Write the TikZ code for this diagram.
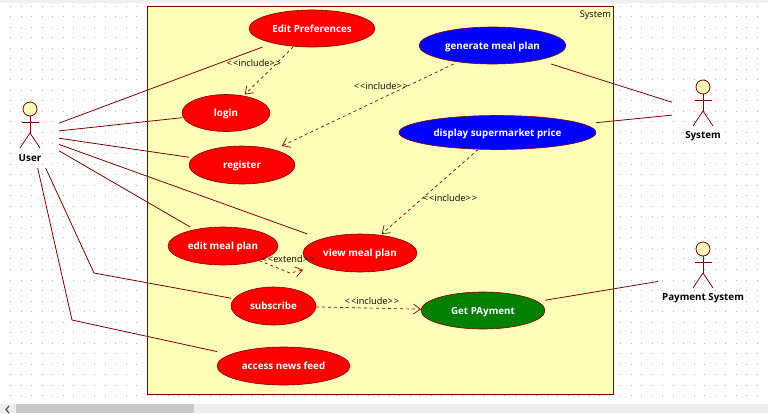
\documentclass[tikz,border=0pt]{standalone}
\usepackage{fontspec}
\setmainfont{Open Sans}
\usetikzlibrary{arrows.meta,shapes.geometric}
\definecolor{umlline}{HTML}{800000}
\definecolor{umlfill}{HTML}{FFFFB9}
\definecolor{ucred}{HTML}{FF0000}
\definecolor{ucblue}{HTML}{0000FF}
\definecolor{ucgreen}{HTML}{008000}
\tikzset{
  usecase/.style={ellipse,draw=umlline,line width=0.6pt,inner sep=0pt,text=white,text height=7.4pt,text depth=0pt,font=\fontsize{9.8}{11}\selectfont\bfseries},
  ucbox/.style={rectangle,inner sep=0pt,outer sep=0pt},
  actorbox/.style={rectangle,inner sep=0pt,outer sep=0pt},
  actorline/.style={draw=umlline,line width=0.8pt},
  actorname/.style={font=\fontsize{9.8}{11}\selectfont\bfseries,text=black,inner sep=0pt},
  assoc/.style={draw=umlline,line width=0.8pt},
  depend/.style={draw=umlline,line width=0.7pt,dash pattern=on 3pt off 3pt,-{Straight Barb[length=7pt,width=10pt]}},
  deplabel/.style={font=\fontsize{9.2}{11}\selectfont,text=black,inner sep=0pt},
}
\newcommand{\UseCase}[7]{%
  \node[usecase,fill=#6,minimum width=#4pt,minimum height=#5pt] (#1) at (#2,#3) {#7};
  \node[ucbox,minimum width=#4pt,minimum height=#5pt] (#1-box) at (#2,#3) {};
}
\newcommand{\Actor}[5]{%
  \node[actorbox,minimum width=#4pt,minimum height=68pt] (#1) at (#2,#3) {};
  \draw[actorline,fill=umlfill] (#2,#3-25) circle (7);
  \draw[actorline] (#2,#3-18) -- (#2,#3-1);
  \draw[actorline] (#2-8.5,#3-11.5) -- (#2+8.5,#3-11.5);
  \draw[actorline] (#2-10,#3+14) -- (#2,#3-1) -- (#2+10,#3+14);
  \node[actorname] (#1-name) at (#2,#3+24.5) {#5};
}
\newcommand{\Inc}{{<}\kern1pt{<}include{>}\kern1pt{>}}
\newcommand{\Ext}{{<}\kern1pt{<}extend{>}\kern1pt{>}}
\begin{document}
\begin{tikzpicture}[x=1pt,y=-1pt]
\useasboundingbox (0,0) rectangle (768,413);
\fill[white] (0,0) rectangle (768,413);
% window chrome
\fill[black!6] (0,0) rectangle (768,2.5);
\fill[black!7] (0,404) rectangle (768,413);
\fill[black!21] (16,404) rectangle (194,413);
\draw[black!70,line width=1.2pt] (9,406) -- (6,409.5) -- (9,413);
% background dots
\foreach \i in {1,...,72}{\foreach \j in {0,...,37}{
  \fill[black!28] ({10.52*\i-0.5},{5.5+10.54*\j}) rectangle ++(1,1);
}}
% system boundary
\node[draw=umlline,line width=1pt,fill=umlfill,minimum width=465.5pt,minimum height=387.5pt,inner sep=0pt] (boundary) at (380.25,200.25) {};
\node[font=\fontsize{9.2}{11}\selectfont,text=black,inner sep=0pt,anchor=east] (boundaryname) at (611,15) {System};
% actors
\Actor{user}{30}{134}{58}{User}
\Actor{sysactor}{703}{112}{62}{System}
\Actor{payactor}{703}{274}{90}{Payment System}
% use cases
\UseCase{editpref}{312}{28.5}{126}{37}{ucred}{Edit Preferences}
\UseCase{login}{226}{113}{88}{37}{ucred}{login}
\UseCase{register}{242}{165}{106}{38}{ucred}{register}
\UseCase{editmeal}{223}{246}{110}{38}{ucred}{edit meal plan}
\UseCase{viewmeal}{360}{253}{114}{38}{ucred}{view meal plan}
\UseCase{subscribe}{273.5}{306}{85}{38}{ucred}{subscribe}
\UseCase{newsfeed}{283.5}{366}{133}{38}{ucred}{access news feed}
\UseCase{genplan}{492.5}{45.5}{147}{37}{ucblue}{generate meal plan}
\UseCase{display}{497.5}{132.5}{197}{34}{ucblue}{display supermarket price}
\UseCase{payment}{483}{310.5}{124}{37}{ucgreen}{Get PAyment}
% bends
\coordinate (bendsub) at (94,273);
\coordinate (bendnews) at (72,320);
\coordinate (bendext) at (290,273);
% associations
\draw[assoc] (user) -- (editpref-box);
\draw[assoc] (user) -- (login-box);
\draw[assoc] (user) -- (register-box);
\draw[assoc] (user) -- (viewmeal-box);
\draw[assoc] (user) -- (editmeal-box);
\draw[assoc] (user) -- (bendsub) -- (subscribe-box);
\draw[assoc] (user) -- (bendnews) -- (newsfeed-box);
\draw[assoc] (sysactor) -- (genplan-box);
\draw[assoc] (sysactor) -- (display-box);
\draw[assoc] (payactor) -- (payment-box);
% dependencies
\draw[depend] (editpref-box) -- (login-box);
\draw[depend] (genplan-box) -- (register-box);
\draw[depend] (display-box) -- (viewmeal-box);
\draw[depend] (subscribe-box) -- (payment-box);
\draw[depend] (editmeal) -- (bendext) -- ([yshift=2pt]viewmeal-box.south west);
% dependency labels
\node[deplabel] (lbla) at (254,63.5) {\Inc};
\node[deplabel] (lblb) at (381,86) {\Inc};
\node[deplabel] (lblc) at (450,198) {\Inc};
\node[deplabel] (lbld) at (372,301) {\Inc};
\node[deplabel] (lble) at (288,259) {\Ext};
\end{tikzpicture}
\end{document}
